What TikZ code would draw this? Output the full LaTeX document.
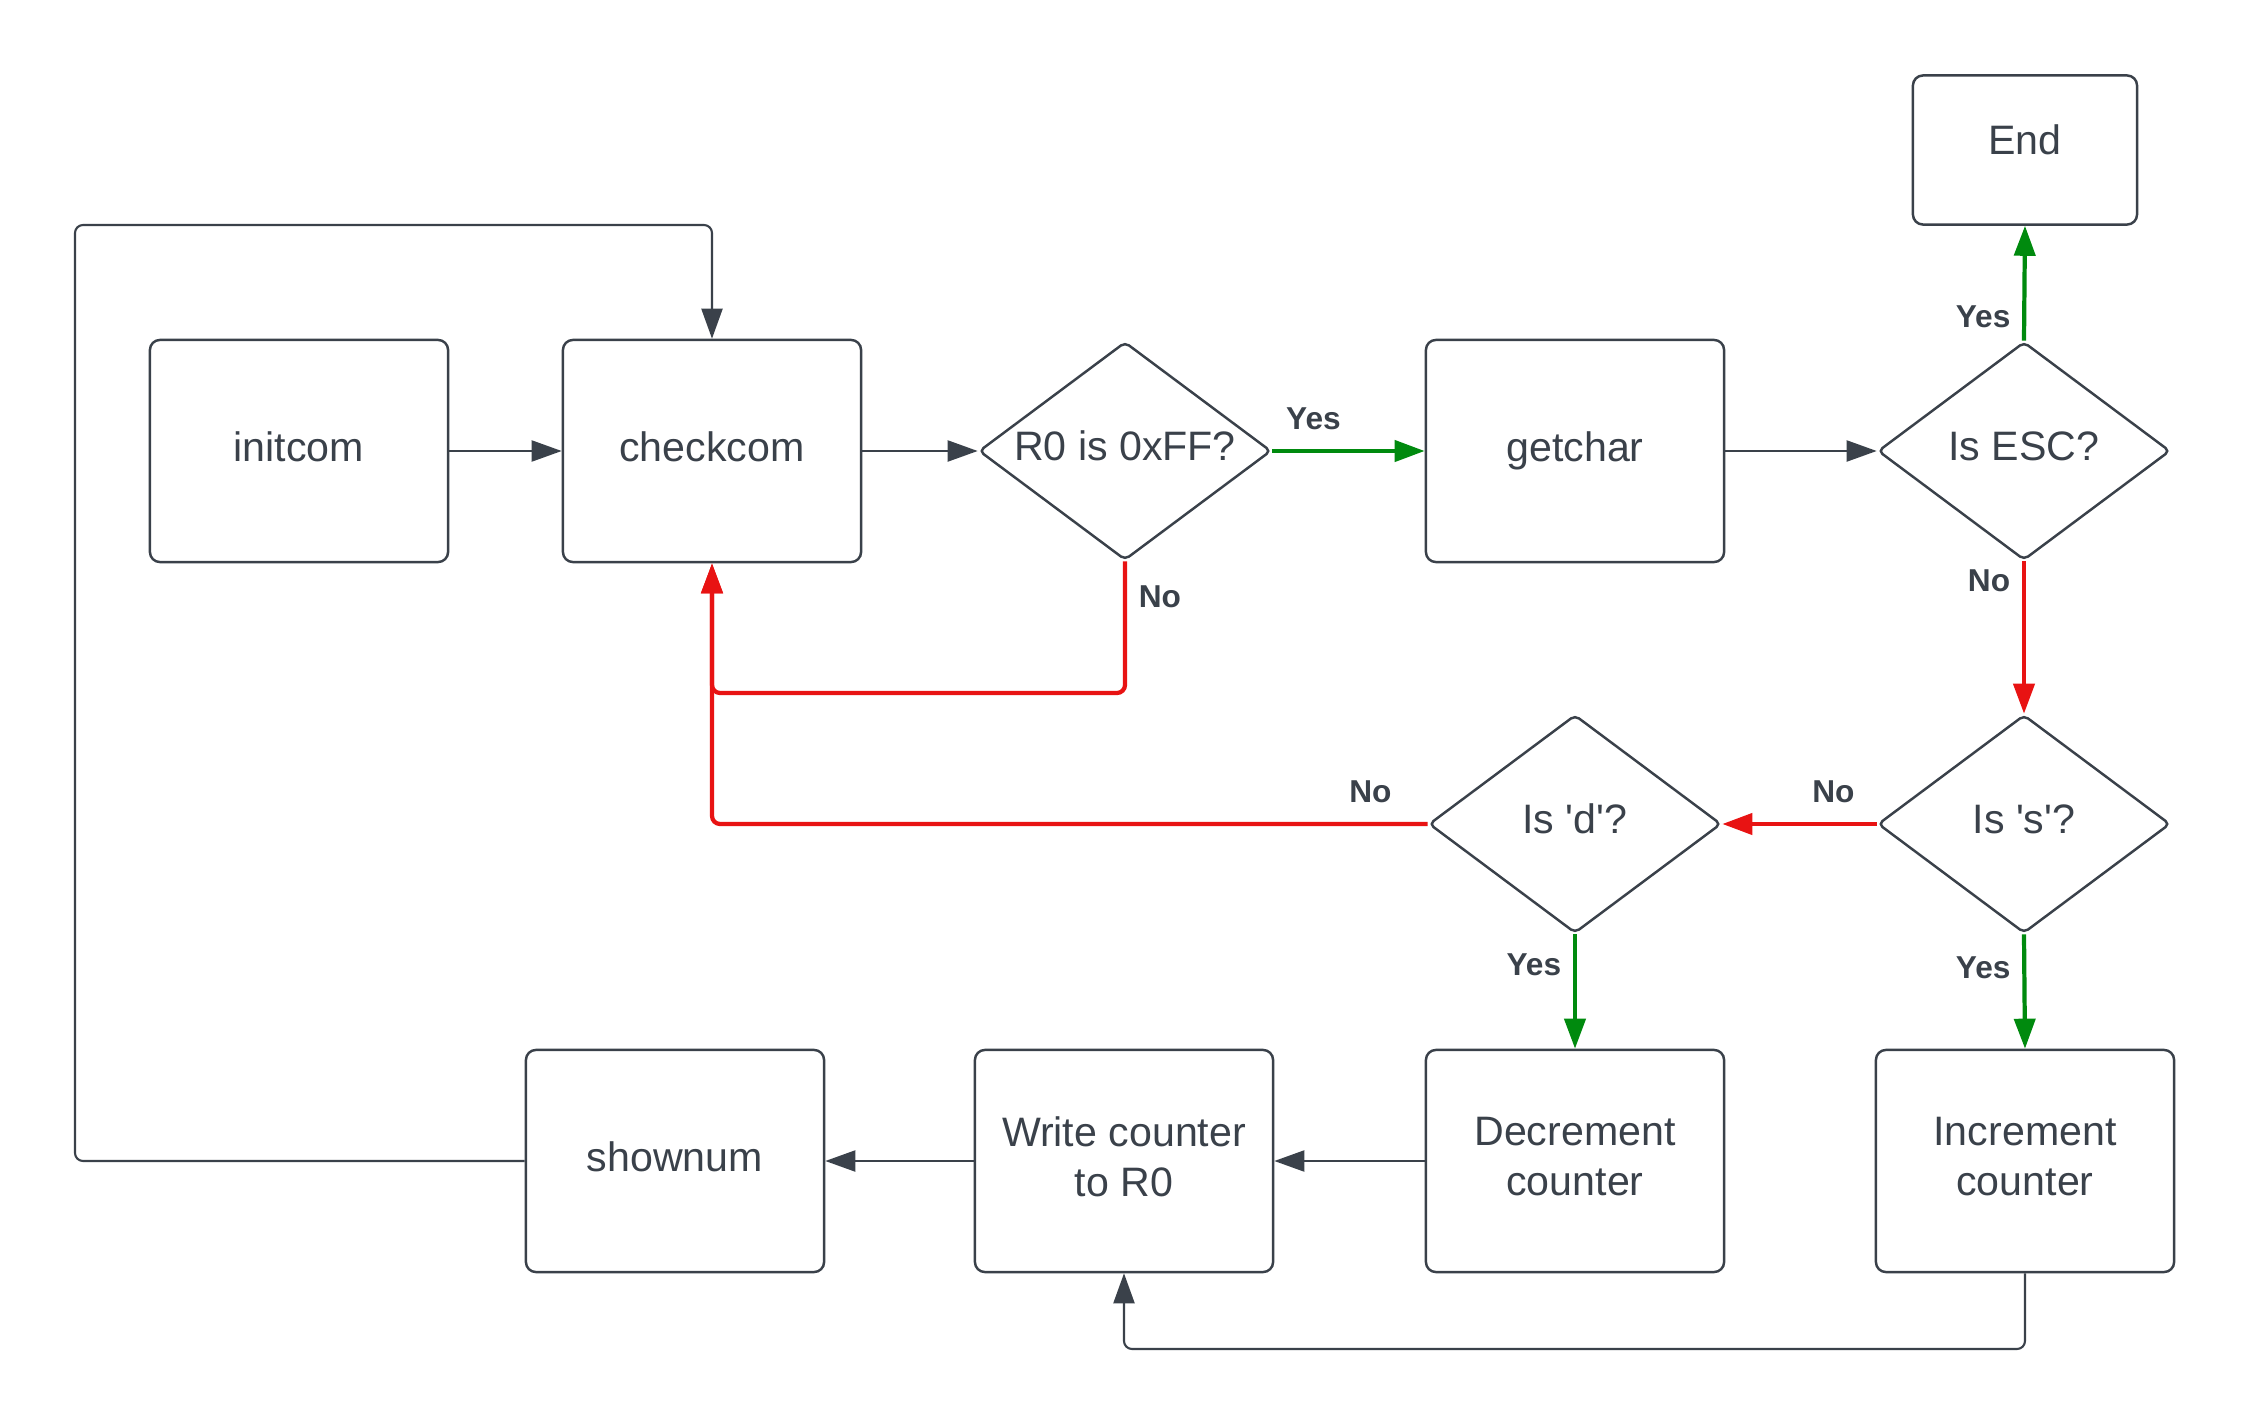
\documentclass[tikz,border=0pt]{standalone}
\usepackage{fontspec}
\setmainfont{Liberation Sans}
\usetikzlibrary{shapes.geometric,arrows.meta}
\definecolor{ink}{HTML}{3A414A}
\definecolor{yesgreen}{HTML}{008A0E}
\definecolor{nored}{HTML}{E81313}

\begin{document}
\begin{tikzpicture}[x=0.01cm,y=-0.01cm,
    >={Triangle[length=0.3cm,width=0.21cm]},
    box/.style={draw=ink,line width=0.7pt,rounded corners=0.1cm,
        minimum width=2.98cm,minimum height=2.22cm,align=center,
        text depth=0.25em,text=ink,font=\fontsize{11.7}{14.2}\selectfont},
    test/.style={diamond,draw=ink,line width=0.7pt,rounded corners=0.05cm,
        minimum width=2.92cm,minimum height=2.18cm,inner sep=0pt,
        text depth=0.29em,text=ink,font=\fontsize{11.7}{14.2}\selectfont,
        execute at begin node=\hbox to 0pt\bgroup\hss,
        execute at end node=\hss\egroup},
    flow/.style={->,draw=ink,line width=0.6pt,rounded corners=0.08cm},
    yes/.style={->,draw=yesgreen,line width=1.2pt},
    no/.style={->,draw=nored,line width=1.2pt,rounded corners=0.08cm},
    lbl/.style={text=ink,font=\bfseries\fontsize{9}{11}\selectfont}]
    \useasboundingbox (0,0) rectangle (2250,1427);

    % top row
    \node [box] (initcom)  at (299,451)  {initcom};
    \node [box] (checkcom) at (712,451)  {checkcom};
    \node [test] (isff)    at (1125,451) {R0 is 0xFF?};
    \node [box] (getchar)  at (1575,451) {getchar};
    \node [test] (isesc)   at (2024,451) {Is ESC?};
    \node [box,minimum width=2.24cm,minimum height=1.49cm,text depth=0.6em]
                (finish)   at (2025,150) {End};

    % middle row
    \node [test] (isd) at (1575,824) {Is \textquotesingle d\textquotesingle?};
    \node [test] (iss) at (2024,824) {Is \textquotesingle s\textquotesingle?};

    % bottom row
    \node [box] (shownum) at (675,1161)  {shownum};
    \node [box] (writer)  at (1124,1161) {Write counter\\to R0};
    \node [box] (decr)    at (1575,1161) {Decrement\\counter};
    \node [box] (incr)    at (2025,1161) {Increment\\counter};

    \coordinate (loopleft)  at (75,1161);
    \coordinate (looptop)   at (75,225);
    \coordinate (incrfoot)  at (2025,1349);
    \coordinate (ffcorner)  at (1125,693);

    \draw [flow] (initcom) -- (checkcom);
    \draw [flow] (checkcom) -- (isff);
    \draw [yes] (isff.east) -- node [lbl,above=2pt,pos=0.27] {Yes} (getchar.west);
    \draw [no] (isff.south) -- node [lbl,right,pos=0.27] {No} (ffcorner)
                -| (checkcom.south);
    \draw [flow] (getchar) -- (isesc);
    \draw [yes] (isesc.north) -- node [lbl,left,pos=0.21] {Yes} (finish.south);
    \draw [no] (isesc.south) -- node [lbl,left,pos=0.13] {No} (iss.north);
    \draw [no] (iss.west) -- node [lbl,above=2pt,pos=0.28] {No} (isd.east);
    \draw [no] (isd.west) -- node [lbl,above=2pt,pos=0.08] {No} (isd.west -| checkcom.south)
                -- (checkcom.south);
    \draw [yes] (isd.south) -- node [lbl,left,pos=0.27] {Yes} (decr.north);
    \draw [yes] (iss.south) -- node [lbl,left,pos=0.29] {Yes} (incr.north);

    \draw [flow] (decr) -- (writer);
    \draw [flow] (writer) -- (shownum);
    \draw [flow] (shownum.west) -- (loopleft) -- (looptop) -| (checkcom.north);
    \draw [flow] (incr.south) -- (incrfoot) -| (writer.south);
\end{tikzpicture}
\end{document}
